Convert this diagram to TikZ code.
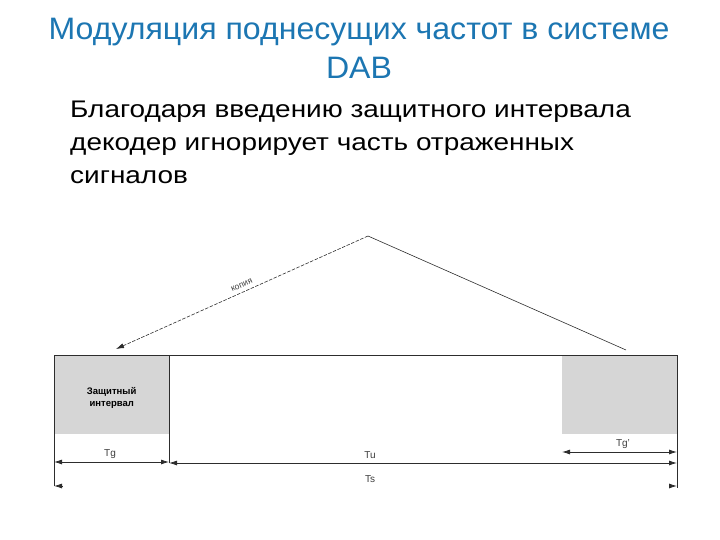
\documentclass[tikz,border=0pt]{standalone}
\usepackage{fontspec}
\setmainfont{Liberation Sans}
\newfontfamily\titlefont[FakeStretch=1.035]{Liberation Sans}
\newfontfamily\bodyfont[FakeStretch=1.165]{Liberation Sans}
\usetikzlibrary{arrows.meta,calc}
\definecolor{titleblue}{RGB}{28,118,178}
\definecolor{guardgray}{RGB}{214,214,214}
\definecolor{framecol}{RGB}{45,45,45}
\definecolor{labelcol}{RGB}{60,60,60}
\begin{document}
\begin{tikzpicture}[x=1pt,y=-1pt,
  titletext/.style={text=titleblue, font=\titlefont\fontsize{31}{35}\selectfont, inner sep=0pt},
  bodytext/.style={text=black, font=\bodyfont\fontsize{24}{33}\selectfont, inner sep=0pt, anchor=base west},
  guardbox/.style={fill=guardgray, draw=none, inner sep=0pt, anchor=north west},
  guardlabel/.style={font=\fontsize{9.5}{11.5}\bfseries\selectfont, text=black, align=center, inner sep=0pt},
  framelin/.style={draw=framecol, line width=0.9pt},
  dimarrow/.style={draw=framecol, line width=0.8pt, {Latex[length=8pt,width=5pt]}-{Latex[length=8pt,width=5pt]}},
  tipone/.style={draw=framecol, line width=0.8pt, -{Latex[length=8pt,width=5pt]}},
  dimlabel/.style={text=labelcol, font=\fontsize{10}{12}\selectfont, inner sep=0pt},
  copylabel/.style={text=labelcol, font=\fontsize{8.5}{10}\selectfont, inner sep=1pt}
]
\useasboundingbox (0,0) rectangle (720,540);

% title and body text
\node[titletext, anchor=base] (title1) at (359,40) {Модуляция поднесущих частот в системе};
\node[titletext, anchor=base] (title2) at (359,79) {DAB};
\node[bodytext] (body1) at (70,118) {Благодаря введению защитного интервала};
\node[bodytext] (body2) at (70,151) {декодер игнорирует часть отраженных};
\node[bodytext] (body3) at (70,184) {сигналов};

% guard interval boxes
\node[guardbox, minimum width=115pt, minimum height=79pt] (gleft) at (54,355) {};
\node[guardbox, minimum width=115pt, minimum height=79pt] (gright) at (562,355) {};
\node[guardlabel] (glabel) at ($(gleft.center)+(0,3)$) {Защитный\\интервал};

% frame coordinates
\coordinate (tl) at (54,355);
\coordinate (tr) at (677,355);
\coordinate (bl) at (54,486);
\coordinate (br) at (677,488);
\coordinate (dtop) at (169,355);
\coordinate (dbot) at (169,463);

\draw[framelin] (tl) -- (tr);
\draw[framelin] (tl) -- (bl);
\draw[framelin] (tr) -- (br);
\draw[framelin] (dtop) -- (dbot);

% copy arrows
\coordinate (apex) at (368,236);
\coordinate (lend) at (116,349);
\coordinate (rend) at (626,350);
\draw[draw=framecol, line width=0.6pt, dash pattern=on 3.5pt off 1.5pt, -{Latex[length=8pt,width=5pt]}] (apex) -- node[copylabel, pos=0.49, sloped, above=3pt] (copy) {копия} (lend);
\draw[draw=framecol, line width=0.6pt] (apex) -- (rend);

% dimension arrows
\coordinate (tgl) at (54,462);
\coordinate (tgr) at (169,462);
\coordinate (tul) at (169,463);
\coordinate (tur) at (677,463);
\coordinate (tql) at (562,452);
\coordinate (tqr) at (677,452);
\coordinate (tsl) at (54,486);
\coordinate (tsr) at (677,486);
\coordinate (tslin) at (62,486);
\coordinate (tsrin) at (669,486);

\draw[dimarrow] (tgl) -- (tgr);
\draw[dimarrow] (tul) -- (tur);
\draw[dimarrow] (tql) -- (tqr);
\draw[tipone] (tslin) -- (tsl);
\draw[tipone] (tsrin) -- (tsr);

\node[dimlabel] (tg) at (110,454) {Tg};
\node[dimlabel] (tu) at (370,455) {Tu};
\node[dimlabel] (tq) at (623,444) {Tg'};
\node[dimlabel] (ts) at (370,479) {Ts};
\end{tikzpicture}
\end{document}
